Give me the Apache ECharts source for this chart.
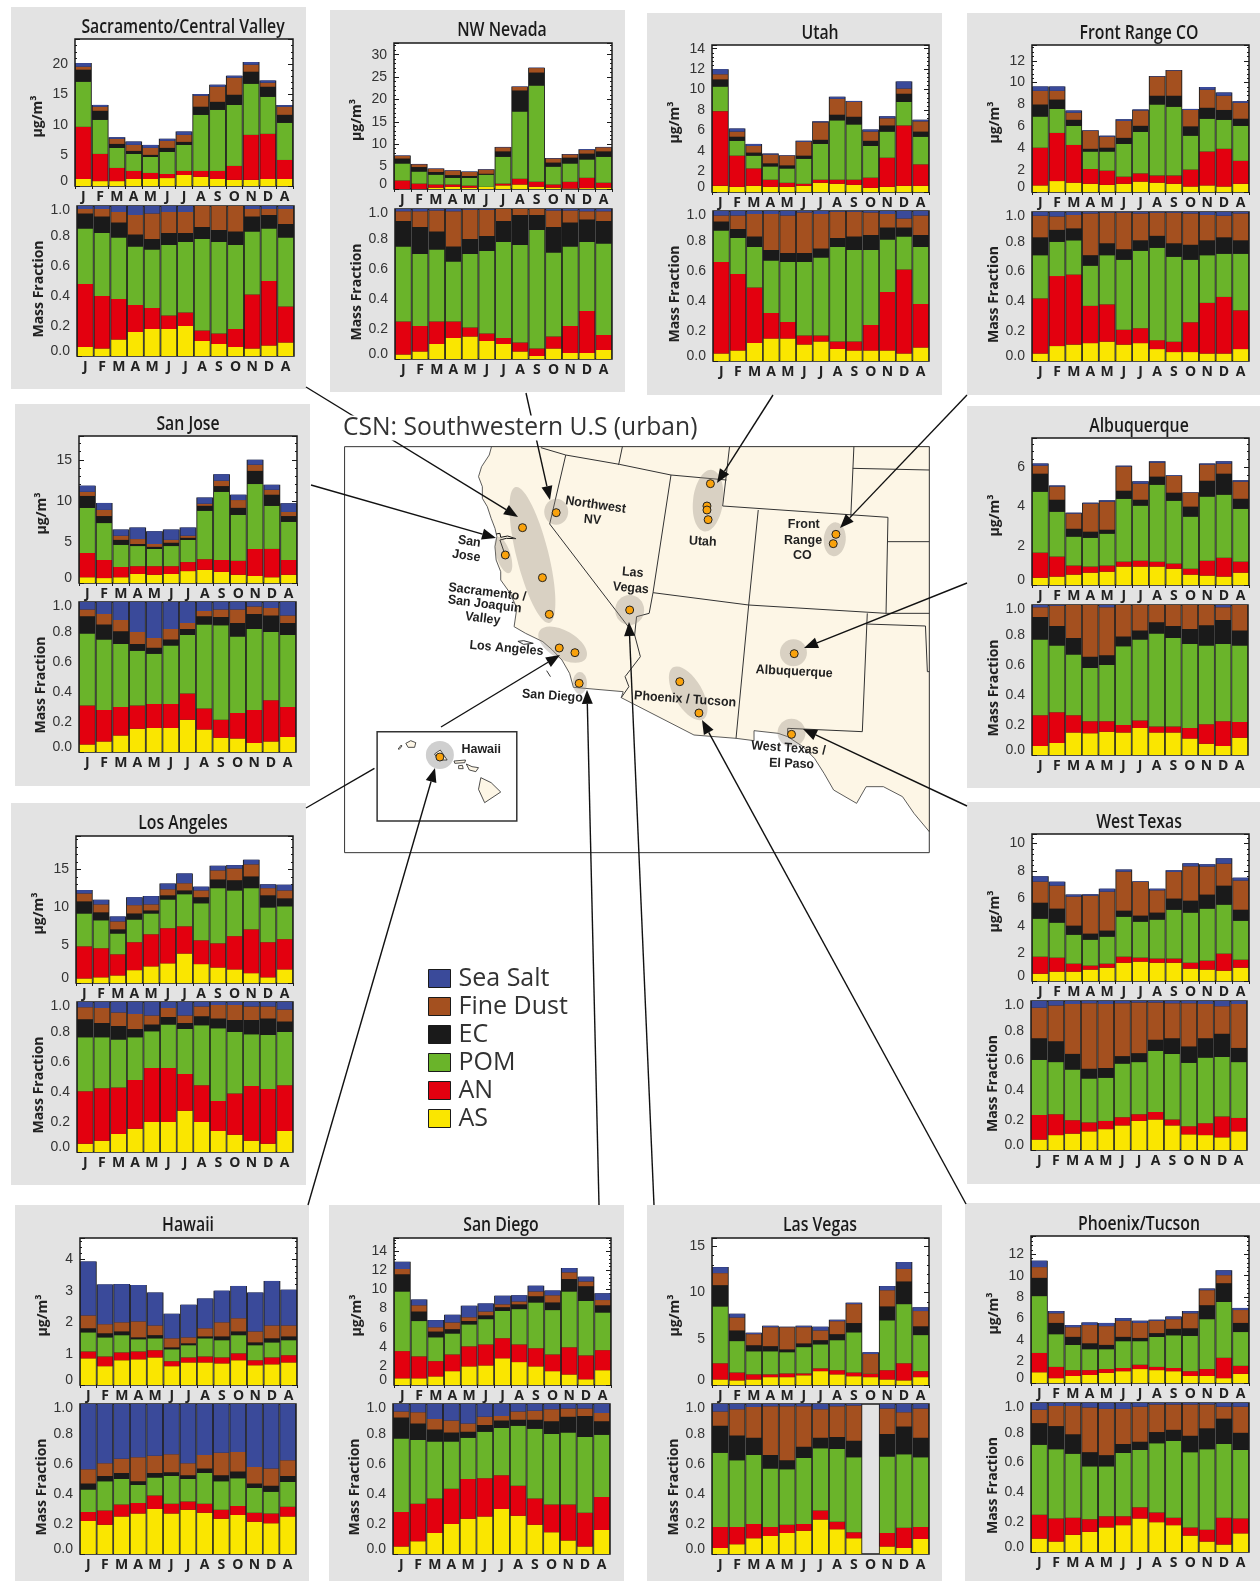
<!DOCTYPE html>
<html>
<head>
<meta charset="utf-8">
<title>CSN: Southwestern U.S (urban)</title>
<script src="https://cdn.jsdelivr.net/npm/echarts@6/dist/echarts.min.js"></script>
<style>
  html, body { margin: 0; padding: 0; background: #fff; }
  #chart { width: 1260px; height: 1581px; }
</style>
</head>
<body>
<div id="chart"></div>
<script>
const months = ['J', 'F', 'M', 'A', 'M', 'J', 'J', 'A', 'S', 'O', 'N', 'D', 'A'];
const species = ['AS', 'AN', 'POM', 'EC', 'Fine Dust', 'Sea Salt'];
const legendOrder = ['Sea Salt', 'Fine Dust', 'EC', 'POM', 'AN', 'AS'];

// every table: upper edge of each stacked layer, rows in species order
const sacConc = [
  [1.15, 0.8, 0.8, 1.15, 1.15, 1.3, 1.8, 1.5, 1.15, 1.0, 1.0, 1.15, 1.15],
  [9.7, 5.26, 2.96, 2.47, 2.14, 1.97, 2.47, 2.47, 2.47, 3.29, 8.38, 8.55, 4.27],
  [17.1, 10.85, 6.25, 5.26, 4.77, 5.59, 6.74, 11.67, 12.49, 13.3, 16.77, 14.63, 10.36],
  [19.07, 12.33, 6.9, 5.75, 5.1, 6.25, 7.23, 13, 13.8, 14.96, 18.74, 16.27, 11.67],
  [19.56, 12.99, 7.73, 6.74, 6.25, 7.4, 8.38, 14.8, 16.27, 17.75, 19.89, 16.93, 12.99],
  [20.16, 13.3, 8, 7.29, 6.74, 7.73, 8.93, 15.07, 16.6, 18.08, 20.33, 17.3, 13.26]
];
const sacFrac = [
  [.06, .05, .11, .16, .18, .18, .20, .10, .08, .06, .05, .07, .09],
  [.48, .40, .38, .34, .32, .27, .29, .17, .15, .18, .41, .50, .33],
  [.85, .82, .79, .73, .71, .74, .76, .78, .76, .74, .83, .85, .79],
  [.95, .93, .89, .81, .78, .82, .82, .86, .84, .83, .93, .94, .88],
  [.98, .98, .96, .94, .95, .96, .96, 1, 1, 1, .98, .98, .98],
  [1, 1, 1, 1, 1, 1, 1, 1, 1, 1, 1, 1, 1]
];
const nvConc = [
  [0, 0, .3, .5, .3, .5, .8, 1.0, .5, .3, .1, .2, .3],
  [1.9, 1.2, 1.0, 1.0, .75, .5, 1.2, 2.3, 1.6, 1.0, 1.6, 2.5, 1.4],
  [5.7, 3.9, 3.2, 2.5, 2.5, 3.2, 7.2, 17.3, 23.1, 5, 5.7, 6.6, 7.2],
  [6.8, 4.9, 3.8, 3.1, 2.9, 3.4, 8.4, 22, 26, 5.9, 7, 7.9, 8.4],
  [7.4, 5.5, 4.5, 4.1, 3.8, 4.3, 9.3, 22.8, 27, 6.8, 7.7, 8.7, 9.3],
  [7.5, 5.6, 4.6, 4.2, 3.9, 4.4, 9.4, 22.9, 27.1, 6.9, 7.8, 8.9, 9.4]
];
const nvFrac = [
  [.03, .05, .10, .14, .15, .12, .10, .05, .02, .07, .04, .04, .06],
  [.25, .22, .25, .25, .21, .17, .14, .11, .07, .15, .22, .32, .16],
  [.75, .70, .73, .65, .70, .72, .78, .76, .86, .71, .75, .78, .77],
  [.92, .88, .85, .75, .80, .82, .92, .96, .96, .88, .91, .93, .92],
  [.985, .985, .99, .985, .995, .995, 1, 1, 1, .99, .99, .985, .985],
  [1, 1, 1, 1, 1, 1, 1, 1, 1, 1, 1, 1, 1]
];
const utConc = [
  [.6, .5, .6, .5, .5, .6, .9, .8, .7, .4, .5, .6, .6],
  [7.9, 3.55, 2.3, 1.2, .9, .8, 1.2, 1.2, 1.2, 1.4, 3.35, 6.5, 2.7],
  [10.3, 5, 3.55, 2.5, 2.3, 3.25, 4.7, 7, 6.6, 4.5, 5.9, 8.8, 5.4],
  [11, 5.4, 3.85, 2.8, 2.6, 3.55, 5.1, 7.55, 7.35, 5, 6.5, 9.6, 5.9],
  [11.5, 5.9, 4.5, 3.65, 3.55, 4.9, 6.8, 9.1, 8.8, 5.9, 7.2, 10.1, 6.9],
  [12, 6.2, 4.7, 3.75, 3.6, 5, 6.9, 9.3, 8.9, 6.1, 7.4, 10.8, 7.05]
];
const utFrac = [
  [.05, .07, .12, .15, .15, .11, .13, .08, .07, .07, .07, .05, .09],
  [.66, .58, .49, .32, .26, .17, .17, .13, .13, .24, .46, .61, .38],
  [.87, .82, .76, .67, .66, .66, .69, .76, .74, .74, .81, .83, .76],
  [.93, .88, .83, .74, .72, .72, .75, .82, .83, .84, .89, .89, .84],
  [.97, .97, .98, .98, .97, .99, .98, .995, .995, .99, .98, .95, .97],
  [1, 1, 1, 1, 1, 1, 1, 1, 1, 1, 1, 1, 1]
];
const coConc = [
  [.6, 1.0, .85, .75, .65, .75, .95, .85, .75, .5, .6, .5, .75],
  [4.05, 5.4, 4.3, 2.1, 1.95, 1.4, 1.7, 1.5, 1.5, 2.05, 3.7, 3.95, 2.85],
  [6.9, 7.6, 6.05, 3.7, 3.7, 4.4, 5.5, 8, 7.8, 5.15, 6.7, 6.6, 6.05],
  [8, 8.45, 6.6, 3.95, 4.05, 4.95, 6.05, 8.8, 8.8, 6, 7.7, 7.5, 6.7],
  [9.25, 9.25, 7.25, 5.6, 5.05, 6.5, 7.45, 10.55, 11.1, 7.5, 9.35, 8.8, 8.15],
  [9.65, 9.65, 7.45, 5.65, 5.15, 6.65, 7.55, 10.6, 11.15, 7.6, 9.6, 9.1, 8.3]
];
const coFrac = [
  [.05, .10, .11, .12, .13, .11, .12, .08, .06, .06, .05, .05, .08],
  [.42, .57, .58, .37, .38, .21, .22, .14, .13, .26, .39, .43, .34],
  [.71, .80, .81, .64, .71, .68, .74, .76, .70, .68, .71, .72, .72],
  [.83, .88, .89, .71, .79, .75, .81, .84, .79, .78, .81, .83, .81],
  [.975, .97, .98, .99, .995, .995, .99, .995, .995, .99, .98, .975, .99],
  [1, 1, 1, 1, 1, 1, 1, 1, 1, 1, 1, 1, 1]
];
const sjConc = [
  [.7, .6, .7, 1.1, 1, 1.1, 1.45, 1.6, 1.35, 1, .85, .7, 1],
  [3.65, 2.8, 1.95, 2.05, 2.05, 2.05, 2.55, 2.9, 2.8, 2.7, 4.15, 4.15, 2.8],
  [9.15, 7.3, 4.65, 4.5, 4.15, 4.5, 5.25, 8.8, 11.1, 8.3, 12.05, 9.4, 7.45],
  [10.6, 8.15, 5.25, 4.75, 4.4, 4.9, 5.5, 9.4, 11.8, 9.15, 13.65, 10.75, 8.15],
  [11.1, 8.9, 5.75, 5.35, 4.75, 5.25, 5.75, 9.65, 12.45, 10.1, 14.4, 11.35, 8.65],
  [11.85, 9.75, 6.5, 6.75, 6.3, 6.5, 6.75, 10.4, 13.25, 10.75, 15, 11.95, 9.7]
];
const sjFrac = [
  [.05, .07, .11, .155, .16, .16, .215, .15, .095, .09, .06, .07, .10],
  [.31, .28, .30, .31, .32, .32, .39, .29, .215, .26, .28, .345, .30],
  [.79, .75, .72, .675, .655, .71, .78, .85, .845, .77, .82, .80, .78],
  [.905, .85, .805, .72, .695, .75, .82, .905, .90, .86, .92, .91, .86],
  [.95, .92, .88, .80, .76, .82, .86, .94, .95, .95, .97, .96, .91],
  [1, 1, 1, 1, 1, 1, 1, 1, 1, 1, 1, 1, 1]
];
const laConc = [
  [.6, .75, 1, 1.7, 2.2, 2.6, 3.9, 2.5, 2.05, 1.8, 1.3, .75, 1.8],
  [4.85, 4.6, 3.8, 5.4, 6.45, 7.25, 7.5, 5.65, 5.25, 6.2, 7.1, 5.4, 5.8],
  [9.2, 8.3, 6.55, 8.4, 9.2, 11.05, 11.75, 10.55, 12.55, 12.25, 12.55, 10, 10.15],
  [10.8, 9.35, 7.1, 9.2, 9.6, 11.6, 12.25, 11.35, 13.7, 13.6, 14.1, 11.6, 11.2],
  [11.85, 10.4, 8.15, 10.3, 10.4, 12.4, 13.2, 12.25, 14.9, 15.15, 15.7, 12.55, 12.25],
  [12.3, 11, 8.8, 11.35, 11.5, 13.15, 14.5, 12.75, 15.5, 15.6, 16.3, 13.05, 13]
];
const laFrac = [
  [.055, .075, .12, .155, .20, .20, .275, .20, .14, .115, .075, .055, .14],
  [.405, .425, .43, .48, .56, .56, .52, .445, .34, .39, .44, .42, .445],
  [.765, .765, .75, .765, .805, .85, .82, .845, .825, .80, .785, .78, .80],
  [.885, .86, .84, .82, .85, .90, .86, .905, .89, .88, .88, .89, .87],
  [.965, .96, .93, .92, .91, .96, .91, .97, .98, .98, .97, .97, .95],
  [1, 1, 1, 1, 1, 1, 1, 1, 1, 1, 1, 1, 1]
];
const abqConc = [
  [.37, .43, .53, .63, .68, .94, .94, .94, .83, .53, .48, .43, .63],
  [1.65, 1.45, .99, .94, .99, 1.19, 1.24, 1.19, 1.09, .83, 1.24, 1.39, 1.19],
  [4.76, 3.74, 2.47, 2.41, 2.62, 4.4, 4.05, 5.12, 4.3, 3.49, 4.51, 4.61, 3.89],
  [5.68, 4.35, 2.87, 2.72, 2.82, 4.81, 4.35, 5.53, 4.71, 4, 5.32, 5.68, 4.4],
  [6.09, 5.02, 3.64, 4.15, 4.25, 6.04, 5.17, 6.24, 5.56, 4.71, 6.14, 6.19, 5.27],
  [6.2, 5.08, 3.69, 4.2, 4.32, 6.09, 5.29, 6.31, 5.6, 4.73, 6.2, 6.31, 5.34]
];
const abqFrac = [
  [.06, .08, .15, .145, .155, .15, .18, .15, .15, .11, .075, .06, .115],
  [.265, .285, .265, .225, .225, .20, .23, .19, .19, .18, .205, .225, .22],
  [.77, .73, .67, .58, .60, .725, .77, .81, .78, .74, .73, .74, .73],
  [.92, .86, .78, .655, .665, .79, .83, .885, .86, .84, .865, .90, .83],
  [.985, .995, 1, 1, .985, 1, 1, 1, 1, 1, 1, .985, 1],
  [1, 1, 1, 1, 1, 1, 1, 1, 1, 1, 1, 1, 1]
];
const txConc = [
  [.53, .68, .68, .83, .97, 1.33, 1.41, 1.33, 1.33, .9, .83, .75, .97],
  [1.77, 1.7, 1.26, 1.12, 1.26, 1.77, 1.7, 1.63, 1.63, 1.33, 1.48, 1.99, 1.55],
  [4.54, 4.25, 3.37, 3.01, 3.23, 4.68, 4.32, 4.47, 5.19, 4.98, 5.27, 5.56, 4.39],
  [5.7, 5.27, 4.03, 3.45, 3.67, 5.12, 4.76, 4.98, 6, 5.85, 6.29, 6.94, 5.19],
  [7.23, 6.94, 6.14, 6.21, 6.5, 7.96, 7.21, 6.6, 7.94, 8.35, 8.33, 8.54, 7.31],
  [7.62, 7.23, 6.29, 6.31, 6.72, 8.11, 7.26, 6.72, 8.06, 8.57, 8.5, 8.93, 7.52]
];
const txFrac = [
  [.07, .10, .11, .125, .14, .165, .195, .205, .165, .105, .10, .085, .125],
  [.235, .24, .20, .185, .195, .22, .24, .255, .205, .16, .18, .225, .215],
  [.605, .59, .54, .48, .485, .58, .59, .665, .645, .585, .62, .625, .59],
  [.75, .73, .645, .545, .55, .63, .65, .74, .75, .695, .75, .78, .685],
  [.955, .97, .98, .985, .98, .985, .99, .99, .985, .985, .98, .965, .98],
  [1, 1, 1, 1, 1, 1, 1, 1, 1, 1, 1, 1, 1]
];
const hiConc = [
  [.85, .6, .79, .82, .88, .6, .72, .72, .69, .79, .63, .66, .72],
  [1.07, .91, 1.04, 1.07, 1.11, .76, .88, .91, .88, 1.01, .79, .88, .95],
  [1.68, 1.52, 1.59, 1.46, 1.49, 1.14, 1.27, 1.49, 1.43, 1.59, 1.27, 1.36, 1.43],
  [1.81, 1.65, 1.71, 1.52, 1.59, 1.2, 1.33, 1.55, 1.55, 1.71, 1.36, 1.49, 1.55],
  [2.22, 1.94, 2, 2.03, 1.9, 1.49, 1.52, 1.81, 2, 2.13, 1.71, 1.9, 1.9],
  [3.94, 3.21, 3.22, 3.19, 2.95, 2.27, 2.56, 2.76, 3.01, 3.16, 2.95, 3.32, 3.04]
];
const hiFrac = [
  [.22, .195, .25, .27, .30, .27, .295, .275, .235, .26, .215, .205, .25],
  [.28, .29, .33, .34, .39, .335, .35, .335, .295, .32, .275, .27, .315],
  [.43, .485, .50, .46, .51, .52, .50, .54, .485, .505, .44, .415, .48],
  [.47, .52, .54, .485, .54, .545, .525, .57, .525, .55, .47, .455, .52],
  [.565, .605, .635, .645, .655, .665, .605, .66, .675, .68, .58, .57, .625],
  [1, 1, 1, 1, 1, 1, 1, 1, 1, 1, 1, 1, 1]
];
const sdConc = [
  [.7, .7, .9, 1.45, 1.95, 2.05, 2.8, 2.4, 1.95, 1.45, 1.1, .6, 1.55],
  [3.55, 3, 2.5, 3.2, 4.05, 4.25, 4.9, 4.25, 3.85, 3.2, 3.95, 3.1, 3.65],
  [9.8, 6.7, 5, 5.4, 6.35, 6.9, 7.75, 7.95, 8.65, 7.85, 9.8, 8.8, 7.6],
  [11.6, 7.7, 5.6, 5.85, 6.7, 7.3, 8.15, 8.45, 9.3, 8.65, 11.1, 10.35, 8.35],
  [12.15, 8.35, 6.05, 6.55, 7.1, 7.7, 8.45, 8.75, 9.8, 9.4, 11.8, 10.85, 8.9],
  [12.9, 8.95, 6.8, 7.35, 8.3, 8.55, 9.35, 9.4, 10.4, 9.9, 12.25, 11.35, 9.6]
];
const sdFrac = [
  [.05, .085, .14, .20, .235, .25, .30, .255, .195, .145, .09, .05, .16],
  [.28, .335, .37, .435, .50, .505, .525, .455, .37, .33, .33, .275, .38],
  [.77, .76, .75, .75, .775, .815, .84, .855, .835, .80, .81, .78, .795],
  [.91, .87, .83, .81, .815, .86, .89, .895, .895, .885, .915, .92, .885],
  [.95, .945, .90, .89, .87, .915, .92, .95, .955, .965, .97, .97, .94],
  [1, 1, 1, 1, 1, 1, 1, 1, 1, 1, 1, 1, 1]
];
const lvConc = [
  [.6, .5, .6, .85, .85, 1.05, 1.5, 1.15, .95, .85, .6, .5, .85],
  [2.35, 1.35, 1.15, 1.15, 1.25, 1.25, 1.8, 1.6, 1.35, 1.25, 1.6, 2.35, 1.5],
  [8.5, 4.75, 3.65, 3.65, 3.55, 4.1, 4.4, 4.85, 5.7, 1.3, 7, 8.75, 5.4],
  [10.8, 5.9, 4.3, 4.2, 3.85, 4.5, 4.85, 5.5, 6.7, 1.3, 8.5, 11.2, 6.35],
  [12.1, 7.3, 5.5, 6.25, 6.25, 6.25, 5.9, 6.9, 8.75, 3.35, 10.25, 12.55, 8],
  [12.75, 7.7, 5.65, 6.4, 6.3, 6.4, 6.3, 7.05, 8.9, 3.55, 10.7, 13.3, 8.4]
];
const lvFrac = [
  [.04, .065, .105, .12, .14, .155, .23, .165, .105, null, .05, .04, .10],
  [.18, .18, .20, .18, .195, .20, .29, .215, .145, null, .14, .175, .18],
  [.675, .625, .66, .57, .565, .64, .705, .70, .645, null, .65, .665, .645],
  [.855, .79, .775, .66, .625, .715, .775, .78, .755, null, .80, .85, .775],
  [.95, .965, .98, .985, .985, .985, .965, .985, .99, null, .97, .945, .97],
  [1, 1, 1, 1, 1, 1, 1, 1, 1, null, 1, 1, 1]
];
const azConc = [
  [1.0, .45, .65, .75, .95, 1.1, 1.3, 1.2, 1.1, .65, .65, .45, .85],
  [2.8, 1.5, 1.2, 1.2, 1.3, 1.4, 1.7, 1.5, 1.4, 1.1, 1.3, 2.35, 1.6],
  [8.1, 4.55, 3.55, 3.15, 3.15, 3.9, 3.9, 4.3, 4.45, 4.4, 5.95, 7.55, 4.75],
  [9.8, 5.6, 4.3, 3.7, 3.55, 4.3, 4.2, 4.65, 5.05, 5.1, 7.25, 9.3, 5.6],
  [10.8, 6.5, 5.2, 5.4, 5.3, 5.8, 5.6, 5.8, 5.95, 6.5, 8.65, 10.05, 6.8],
  [11.4, 6.7, 5.4, 5.65, 5.6, 6.05, 5.8, 5.9, 6.2, 6.7, 8.8, 10.5, 7]
];
const azFrac = [
  [.09, .07, .115, .135, .165, .18, .225, .20, .18, .11, .07, .05, .125],
  [.25, .225, .23, .22, .24, .24, .30, .265, .23, .165, .15, .23, .225],
  [.72, .69, .66, .575, .575, .665, .685, .73, .745, .67, .69, .725, .685],
  [.865, .845, .79, .67, .65, .725, .74, .805, .82, .78, .83, .895, .80],
  [.955, .98, .98, .97, .96, .96, .975, .99, .99, .99, .99, .975, .975],
  [1, 1, 1, 1, 1, 1, 1, 1, 1, 1, 1, 1, 1]
];

// monitoring sites on the map, in the map grid's units
const siteX = [477, 565, 432, 529, 547, 573, 614, 625, 757, 968, 959, 959, 962, 1296, 1289, 1187, 888, 938, 1180, 261];
const siteY = [383, 338, 465, 533, 643, 744, 758, 850, 630, 251, 318, 330, 359, 403, 431, 761, 845, 939, 1003, 1071];

const colors = {
  'AS': '#fae600', 'AN': '#e3000f', 'POM': '#6ab42a',
  'EC': '#1a1a1a', 'Fine Dust': '#a4501f', 'Sea Salt': '#3a4a9a'
};
const INK = '#1a1a1a';
const LABEL_FONT = '"Liberation Sans", sans-serif';
const BOLD_FONT = '"Open Sans", sans-serif';

// box: x0,y0,x1,y1  conc/frac: left,top,right,bottom  of the two plots
const panels = [
  { name: 'Sacramento/Central Valley', cx: 183, cy: 27, box: [11, 7, 306, 389], conc: [75, 39, 293, 186], frac: [77, 206, 294, 356], yMax: 24.1, step: 5, c: sacConc, f: sacFrac },
  { name: 'NW Nevada', cx: 502, cy: 30, box: [330, 10, 625, 392], conc: [394, 43, 612, 189], frac: [395, 209, 612, 359], yMax: 32.6, step: 5, c: nvConc, f: nvFrac },
  { name: 'Utah', cx: 820, cy: 33, box: [647, 13, 942, 395], conc: [712, 45, 929, 192], frac: [713, 211, 929, 361], yMax: 14.36, step: 2, c: utConc, f: utFrac },
  { name: 'Front Range CO', cx: 1139, cy: 33, box: [967, 13, 1260, 395], conc: [1032, 45, 1249, 192], frac: [1032, 212, 1249, 361], yMax: 13.44, step: 2, c: coConc, f: coFrac },
  { name: 'San Jose', cx: 188, cy: 424, box: [15, 404, 310, 786], conc: [79, 436, 297, 583], frac: [79, 602, 296, 752], yMax: 17.9, step: 5, c: sjConc, f: sjFrac },
  { name: 'Los Angeles', cx: 183, cy: 823, box: [11, 803, 306, 1185], conc: [76, 836, 293, 983], frac: [77, 1002, 293, 1152], yMax: 19.45, step: 5, c: laConc, f: laFrac },
  { name: 'Albuquerque', cx: 1139, cy: 426, box: [967, 406, 1260, 788], conc: [1032, 438, 1249, 585], frac: [1032, 605, 1248, 755], yMax: 7.5, step: 2, c: abqConc, f: abqFrac },
  { name: 'West Texas', cx: 1139, cy: 822, box: [967, 802, 1260, 1184], conc: [1032, 834, 1249, 981], frac: [1031, 1001, 1247, 1150], yMax: 10.7, step: 2, c: txConc, f: txFrac },
  { name: 'Hawaii', cx: 188, cy: 1225, box: [15, 1205, 309, 1581], conc: [80, 1238, 297, 1385], frac: [80, 1404, 296, 1554], yMax: 4.69, step: 1, c: hiConc, f: hiFrac },
  { name: 'San Diego', cx: 501, cy: 1225, box: [329, 1205, 624, 1581], conc: [394, 1238, 611, 1385], frac: [393, 1404, 610, 1554], yMax: 15.4, step: 2, c: sdConc, f: sdFrac },
  { name: 'Las Vegas', cx: 820, cy: 1225, box: [647, 1205, 942, 1581], conc: [712, 1238, 929, 1385], frac: [712, 1404, 929, 1554], yMax: 15.9, step: 5, c: lvConc, f: lvFrac },
  { name: 'Phoenix/Tucson', cx: 1139, cy: 1224, box: [965, 1203, 1260, 1581], conc: [1031, 1236, 1249, 1383], frac: [1031, 1403, 1249, 1552], yMax: 13.7, step: 2, c: azConc, f: azFrac }
];

const option = {
  animation: false,
  backgroundColor: '#fff',
  grid: [], xAxis: [], yAxis: [], series: [],
  legend: {
    left: 423, top: 961, orient: 'vertical', icon: 'rect', selectedMode: false,
    itemWidth: 22, itemHeight: 18, itemGap: 3,
    itemStyle: { borderColor: INK, borderWidth: 1 },
    textStyle: { fontFamily: BOLD_FONT, fontSize: 25, color: '#333', padding: [0, 0, 0, 3] },
    data: legendOrder
  },
  graphic: []
};

function addPlot(rect, edges, yMax, step, isFrac) {
  const g = option.grid.length;
  const [l, t, r, b] = rect;
  option.grid.push({
    left: l, top: t, width: r - l, height: b - t,
    show: true, backgroundColor: isFrac ? 'transparent' : '#fff',
    borderColor: INK, borderWidth: 1.5
  });

  // colored bars sit on the bottom axis, black outline bars on the top one
  const xMain = option.xAxis.length;
  option.xAxis.push({
    type: 'category', gridIndex: g, data: months, position: 'bottom',
    axisLine: { show: false }, axisTick: { show: false },
    axisLabel: { interval: 0, margin: 4, color: '#222', fontFamily: BOLD_FONT, fontWeight: 700, fontSize: 14 }
  });
  const xOutline = option.xAxis.length;
  option.xAxis.push({
    type: 'category', gridIndex: g, data: months, position: 'top',
    axisLine: { show: false }, axisLabel: { show: false },
    axisTick: { show: !isFrac, inside: true, length: 3, lineStyle: { color: INK } }
  });

  const yLeft = option.yAxis.length;
  option.yAxis.push({
    type: 'value', gridIndex: g, min: 0, max: yMax, interval: step,
    name: isFrac ? 'Mass Fraction' : 'µg/m³',
    nameLocation: 'middle', nameGap: isFrac ? 31 : 30,
    nameTextStyle: {
      fontFamily: BOLD_FONT, fontWeight: 700, fontSize: 14, color: '#222',
      padding: isFrac ? [0, 16, 0, 0] : [0, 8, 0, 0]
    },
    splitLine: { show: false },
    axisLine: { show: false },
    axisTick: { show: true, inside: true, length: 5, lineStyle: { color: INK } },
    minorTick: { show: !isFrac, splitNumber: 5, length: 2, lineStyle: { color: INK } },
    axisLabel: {
      color: '#333', fontFamily: LABEL_FONT, fontSize: 14, lineHeight: 9, margin: 7, hideOverlap: false,
      showMinLabel: true, showMaxLabel: isFrac, verticalAlignMinLabel: 'bottom', verticalAlignMaxLabel: 'top',
      formatter: v => isFrac ? v.toFixed(1) : String(v)
    }
  });
  if (!isFrac) {
    option.yAxis.push({
      type: 'value', gridIndex: g, min: 0, max: yMax, interval: step, position: 'right',
      splitLine: { show: false }, axisLine: { show: false }, axisLabel: { show: false },
      axisTick: { show: true, inside: true, length: 5, lineStyle: { color: INK } },
      minorTick: { show: true, splitNumber: 5, length: 2, lineStyle: { color: INK } }
    });
  }

  option.series.push({
    type: 'bar', name: 'outline', xAxisIndex: xOutline, yAxisIndex: yLeft,
    data: edges[edges.length - 1], barCategoryGap: '0%', z: 2, silent: true,
    itemStyle: { color: INK, borderColor: INK, borderWidth: 2 }
  });
  species.forEach((sp, i) => {
    option.series.push({
      type: 'bar', name: sp, stack: 'p' + g, xAxisIndex: xMain, yAxisIndex: yLeft,
      barWidth: 15, z: 3, silent: true, itemStyle: { color: colors[sp] },
      data: edges[i].map((v, k) => v === null ? null : Math.max(0, v - (i ? edges[i - 1][k] : 0)))
    });
  });
}

// map outline coordinates share the map grid's units; mx/my turn them into pixels
const MAP = { left: 340, top: 400, width: 600, height: 460, xMax: 1568, yMax: 1380 };
const mx = x => MAP.left + x * MAP.width / MAP.xMax;
const my = y => MAP.top + y * MAP.height / MAP.yMax;
const mp = pts => pts.map(p => [mx(p[0]), my(p[1])]);

const landOutline = [
  [396, 140], [390, 165], [370, 200], [362, 230], [372, 260], [372, 295], [385, 320], [395, 355], [405, 385],
  [410, 410], [405, 440], [408, 480], [420, 515], [420, 540], [445, 580], [462, 625], [455, 680], [485, 700],
  [530, 725], [555, 750], [580, 780], [600, 820], [610, 862], [740, 875], [735, 893], [925, 1005], [1035, 1015],
  [1082, 1022], [1082, 992], [1145, 1000], [1170, 1010], [1210, 1040], [1240, 1075], [1265, 1120], [1290, 1170],
  [1350, 1210], [1375, 1160], [1420, 1160], [1470, 1190], [1500, 1240], [1540, 1295], [1540, 140]
];
const stateLines = [
  [[525, 143], [590, 165], [730, 193], [865, 225], [1010, 240]],
  [[738, 140], [728, 195]],
  [[590, 165], [548, 372], [770, 705]],
  [[865, 225], [818, 578], [808, 640], [775, 650], [770, 705], [785, 770], [745, 830], [755, 860], [735, 893]],
  [[1018, 140], [1008, 240], [1000, 318], [1432, 352], [1427, 640]],
  [[1093, 330], [1068, 615], [1035, 1015]],
  [[818, 578], [1068, 615], [1427, 640], [1540, 640]],
  [[1378, 640], [1365, 995], [1170, 985], [1170, 1005]],
  [[1343, 140], [1335, 347]],
  [[1340, 205], [1540, 210]],
  [[1432, 425], [1540, 425]],
  [[1375, 672], [1530, 678], [1535, 815], [1540, 815]]
];
const islands = [
  [[172, 1030], [185, 1022], [198, 1028], [195, 1042], [178, 1042]],
  [[152, 1047], [160, 1035], [162, 1038], [155, 1048]],
  [[247, 1062], [262, 1050], [280, 1080], [258, 1080]],
  [[298, 1083], [328, 1080], [326, 1088], [300, 1090]],
  [[310, 1097], [320, 1096], [322, 1106], [310, 1106]],
  [[330, 1092], [345, 1100], [362, 1103], [355, 1115], [338, 1110]],
  [[368, 1133], [395, 1148], [420, 1176], [378, 1208], [362, 1168]]
];
const islets = [
  [[465, 724], [480, 722], [505, 730], [480, 733], [465, 724]], [[540, 812], [550, 830]]
];
const bayArea = [[408, 402], [418, 400], [420, 412], [438, 408], [460, 416], [435, 415], [418, 420], [430, 460]];

// x, y (map units), half sizes in px, rotation in degrees
const regions = [
  [503, 465, 16, 70, 14], [565, 335, 12, 13, 0], [427, 465, 7, 19, 18],
  [582, 734, 27, 14, -30], [627, 849, 7, 11, 0], [757, 630, 14.5, 15, 0],
  [962, 302, 15, 31, -7], [1293, 418, 11, 17, -5], [1185, 758, 13.5, 13.5, 0],
  [910, 880, 14, 30, 30], [1180, 998, 14, 14, 0]
];

const mapLabels = [
  ['Northwest', 668, 315, 8], ['NV', 660, 360, 5], ['San', 338, 425, 8], ['Jose', 330, 468, 8],
  ['Sacramento /', 385, 577, 7], ['San Joaquin', 378, 613, 7], ['Valley', 373, 656, 7],
  ['Los Angeles', 435, 745, 5], ['San Diego', 555, 888, 4], ['Las', 765, 518, 5], ['Vegas', 760, 565, 5],
  ['Utah', 948, 425, 3], ['Front', 1212, 373, 0], ['Range', 1210, 420, 0], ['CO', 1208, 465, 0],
  ['Albuquerque', 1187, 815, 3], ['Phoenix / Tucson', 902, 898, 4],
  ['West Texas /', 1172, 1045, 4], ['El Paso', 1180, 1092, 2], ['Hawaii', 369, 1047, 0]
];

// pointer arrows from the panels, pixel from -> pixel tip
const arrows = [
  [[306, 387], [518, 517]], [[526, 393], [550, 500]], [[773, 395], [717, 483]], [[967, 395], [840, 528]],
  [[311, 485], [496, 538]], [[967, 583], [804, 648]], [[441, 727], [560, 655]], [[967, 806], [803, 729]],
  [[966, 1204], [702, 720]], [[654, 1205], [629, 622]], [[599, 1205], [587, 690]], [[308, 1205], [435, 768]]
];

panels.forEach(p => {
  option.graphic.push({
    type: 'rect', z: -2,
    shape: { x: p.box[0], y: p.box[1], width: p.box[2] - p.box[0], height: p.box[3] - p.box[1] },
    style: { fill: '#e3e3e3' }
  });
  option.graphic.push({
    type: 'text', z: 8, x: p.cx, y: p.cy, scaleX: 0.79,
    style: { text: p.name, textAlign: 'center', textVerticalAlign: 'middle', fill: '#1a1a1a', font: '600 20px "Open Sans", sans-serif' }
  });
  addPlot(p.conc, p.c, p.yMax, p.step, false);
  addPlot(p.frac, p.f, 1, 0.2, true);
});

const gfx = option.graphic;
gfx.push({ type: 'rect', z: -2, shape: { x: mx(12), y: my(140), width: mx(1540) - mx(12), height: my(1358) - my(140) }, style: { fill: '#fff', stroke: '#333', lineWidth: 1 } });
gfx.push({ type: 'polygon', z: -2, shape: { points: mp(landOutline) }, style: { fill: '#fdf6e6', stroke: '#333', lineWidth: 0.8 } });
stateLines.forEach(line => gfx.push({ type: 'polyline', z: -2, shape: { points: mp(line) }, style: { fill: 'none', stroke: '#333', lineWidth: 1 } }));
islets.forEach(line => gfx.push({ type: 'polyline', z: -2, shape: { points: mp(line) }, style: { fill: 'none', stroke: '#333', lineWidth: 1 } }));
gfx.push({ type: 'polyline', z: -2, shape: { points: mp(bayArea) }, style: { fill: 'none', stroke: '#111', lineWidth: 1 } });
regions.forEach(r => gfx.push({
  type: 'ellipse', z: -2, x: mx(r[0]), y: my(r[1]), rotation: r[4] * Math.PI / 180,
  shape: { cx: 0, cy: 0, rx: r[2], ry: r[3] }, style: { fill: 'rgba(150,140,130,0.35)' }
}));
gfx.push({ type: 'rect', z: -2, shape: { x: mx(97), y: my(995), width: mx(462) - mx(97), height: my(1263) - my(995) }, style: { fill: '#fff', stroke: '#333', lineWidth: 1.5 } });
gfx.push({ type: 'circle', z: -2, shape: { cx: mx(261), cy: my(1065), r: 14 }, style: { fill: '#cfcfcf' } });
islands.forEach(pts => gfx.push({ type: 'polygon', z: -2, shape: { points: mp(pts) }, style: { fill: '#fdf6e6', stroke: '#222', lineWidth: 0.8 } }));
// line from the Los Angeles panel to the inset
gfx.push({ type: 'line', z: 10, shape: { x1: 306, y1: 808, x2: mx(90), y2: my(1105) }, style: { stroke: '#111', lineWidth: 1.4 } });

arrows.forEach(([from, tip]) => {
  const ang = Math.atan2(tip[1] - from[1], tip[0] - from[0]);
  const bx = tip[0] - 14 * Math.cos(ang), by = tip[1] - 14 * Math.sin(ang);
  const nx = -Math.sin(ang) * 5.5, ny = Math.cos(ang) * 5.5;
  gfx.push({ type: 'line', z: 10, shape: { x1: from[0], y1: from[1], x2: bx, y2: by }, style: { stroke: '#111', lineWidth: 1.4 } });
  gfx.push({ type: 'polygon', z: 10, shape: { points: [tip, [bx + nx, by + ny], [bx - nx, by - ny]] }, style: { fill: '#111' } });
});

mapLabels.forEach(m => gfx.push({
  type: 'text', z: 8, x: mx(m[1]), y: my(m[2]), rotation: -m[3] * Math.PI / 180, scaleX: 0.96,
  style: { text: m[0], textAlign: 'center', textVerticalAlign: 'middle', fill: '#222', font: 'bold 13px "Liberation Sans", sans-serif' }
}));

gfx.push({
  type: 'text', z: 12, x: 343, y: 428, scaleX: 0.985,
  style: { text: 'CSN: Southwestern U.S (urban)', textAlign: 'left', textVerticalAlign: 'middle', fill: '#333', font: '25px "Open Sans", sans-serif', backgroundColor: '#fff' }
});

// hidden grid in map units, only carries the site markers
const mapGrid = option.grid.length;
option.grid.push({ left: MAP.left, top: MAP.top, width: MAP.width, height: MAP.height, show: false });
const mapX = option.xAxis.length, mapY = option.yAxis.length;
option.xAxis.push({ type: 'value', gridIndex: mapGrid, min: 0, max: MAP.xMax, show: false });
option.yAxis.push({ type: 'value', gridIndex: mapGrid, min: 0, max: MAP.yMax, inverse: true, show: false });
option.series.push({
  type: 'scatter', name: 'Sites', xAxisIndex: mapX, yAxisIndex: mapY, symbolSize: 8, z: 5, silent: true,
  data: siteX.map((x, i) => [x, siteY[i]]),
  itemStyle: { color: '#f9a20c', borderColor: '#222', borderWidth: 1, opacity: 1 }
});

const chart = echarts.init(document.getElementById('chart'), undefined, { renderer: 'canvas' });
chart.setOption(option);
</script>
</body>
</html>
